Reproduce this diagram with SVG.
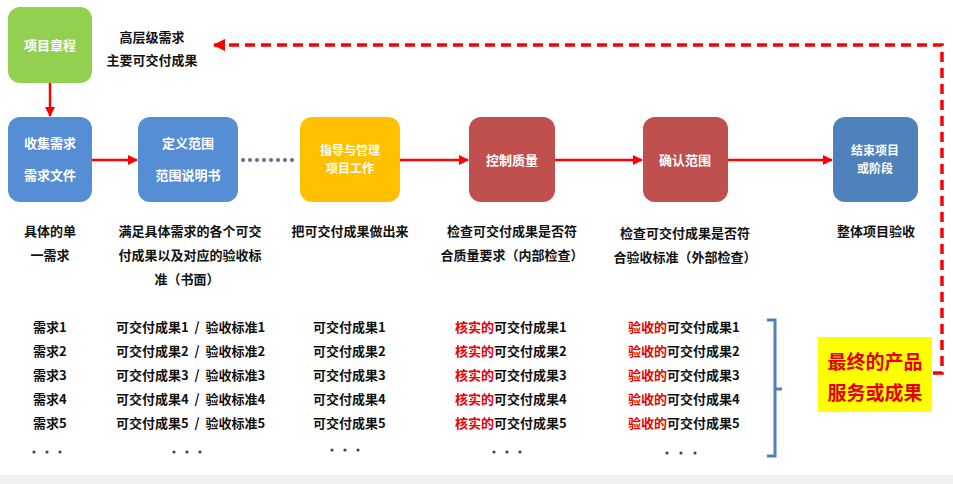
<svg xmlns="http://www.w3.org/2000/svg" width="953" height="484" viewBox="0 0 953 484">
<defs>
<style>
text{font-family:"Noto Sans CJK SC","Liberation Sans",sans-serif;font-weight:bold;}
.box{font-size:13px;fill:#fff;text-anchor:middle;}
.box2{font-size:12px;fill:#fff;text-anchor:middle;}
.t{font-size:13px;fill:#111;}
.c{text-anchor:middle;}
.r{fill:#e60000;}
.conn{stroke:#f00;stroke-width:2.5;fill:none;}
.dot{fill:#444;}
</style>
<marker id="ah" viewBox="0 0 10 10" refX="9" refY="5" markerWidth="4" markerHeight="4" orient="auto"><path d="M0,0 L10,5 L0,10 z" fill="#f00"/></marker>
<marker id="ah2" viewBox="0 0 10 10" refX="9" refY="5" markerWidth="3.5" markerHeight="3.5" orient="auto"><path d="M0,0 L10,5 L0,10 z" fill="#f00"/></marker>
</defs>
<rect width="953" height="484" fill="#fff"/>
<rect x="0" y="475" width="953" height="9" fill="#efefef"/>

<g id="connectors">
<line class="conn" x1="50" y1="83" x2="50" y2="116" marker-end="url(#ah)"/>
<line class="conn" x1="92" y1="160" x2="137" y2="160" marker-end="url(#ah)"/>
<line x1="243" y1="160" x2="298" y2="160" stroke="#5b6f8f" stroke-width="4" stroke-dasharray="0 7" stroke-linecap="round"/>
<line class="conn" x1="400" y1="160" x2="468" y2="160" marker-end="url(#ah)"/>
<line class="conn" x1="555" y1="160" x2="642" y2="160" marker-end="url(#ah)"/>
<line class="conn" x1="728" y1="160" x2="832" y2="160" marker-end="url(#ah)"/>
<polyline points="933,373 942,373 942,45 214,45" stroke="#f00" stroke-width="3.5" fill="none" stroke-dasharray="10 6" marker-end="url(#ah2)"/>
<path d="M767,320 H775 V456 H767 M775,389 H782" stroke="#4f81bd" stroke-width="3" fill="none"/>
</g>

<g id="charter">
<rect x="8" y="7" width="84" height="76" rx="12" fill="#92d050"/>
<text class="box" x="50" y="50">项目章程</text>
</g>
<g id="collect">
<rect x="8" y="117" width="84" height="85" rx="12" fill="#558ed5"/>
<text class="box" x="50" y="148">收集需求</text>
<text class="box" x="50" y="180">需求文件</text>
</g>
<g id="define">
<rect x="138" y="117" width="100" height="85" rx="12" fill="#558ed5"/>
<text class="box" x="188" y="148">定义范围</text>
<text class="box" x="188" y="180">范围说明书</text>
</g>
<g id="direct">
<rect x="300" y="117" width="100" height="85" rx="12" fill="#ffc000"/>
<text class="box2" x="350" y="155">指导与管理</text>
<text class="box2" x="350" y="173">项目工作</text>
</g>
<g id="quality">
<rect x="469" y="117" width="86" height="85" rx="12" fill="#c0504d"/>
<text class="box" x="512" y="165">控制质量</text>
</g>
<g id="validate">
<rect x="643" y="117" width="85" height="85" rx="12" fill="#c0504d"/>
<text class="box" x="685" y="165">确认范围</text>
</g>
<g id="close">
<rect x="833" y="117" width="85" height="85" rx="12" fill="#4f81bd"/>
<text class="box2" x="875" y="155">结束项目</text>
<text class="box2" x="875" y="173">或阶段</text>
</g>

<g id="top-note">
<text class="t c" x="152" y="42">高层级需求</text>
<text class="t c" x="152" y="65">主要可交付成果</text>
</g>

<g id="descriptions">
<text class="t c" x="50" y="236">具体的单</text>
<text class="t c" x="50" y="260">一需求</text>
<text class="t c" x="190" y="236">满足具体需求的各个可交</text>
<text class="t c" x="190" y="260">付成果以及对应的验收标</text>
<text class="t c" x="187" y="284">准（书面）</text>
<text class="t c" x="350" y="236">把可交付成果做出来</text>
<text class="t c" x="512" y="236">检查可交付成果是否符</text>
<text class="t c" x="512" y="260">合质量要求（内部检查）</text>
<text class="t c" x="685" y="238">检查可交付成果是否符</text>
<text class="t c" x="685" y="262">合验收标准（外部检查）</text>
<text class="t c" x="876" y="236">整体项目验收</text>
</g>

<g id="list1">
<text class="t" x="33" y="332">需求1</text>
<text class="t" x="33" y="356">需求2</text>
<text class="t" x="33" y="380">需求3</text>
<text class="t" x="33" y="404">需求4</text>
<text class="t" x="33" y="428">需求5</text>
<circle class="dot" cx="34" cy="452" r="1.6"/><circle class="dot" cx="47" cy="452" r="1.6"/><circle class="dot" cx="60" cy="452" r="1.6"/>
</g>
<g id="list2">
<text class="t" x="116" y="332" word-spacing="3">可交付成果1 / 验收标准1</text>
<text class="t" x="116" y="356" word-spacing="3">可交付成果2 / 验收标准2</text>
<text class="t" x="116" y="380" word-spacing="3">可交付成果3 / 验收标准3</text>
<text class="t" x="116" y="404" word-spacing="3">可交付成果4 / 验收标准4</text>
<text class="t" x="116" y="428" word-spacing="3">可交付成果5 / 验收标准5</text>
<circle class="dot" cx="174" cy="452" r="1.6"/><circle class="dot" cx="187" cy="452" r="1.6"/><circle class="dot" cx="200" cy="452" r="1.6"/>
</g>
<g id="list3">
<text class="t" x="313" y="332">可交付成果1</text>
<text class="t" x="313" y="356">可交付成果2</text>
<text class="t" x="313" y="380">可交付成果3</text>
<text class="t" x="313" y="404">可交付成果4</text>
<text class="t" x="313" y="428">可交付成果5</text>
<circle class="dot" cx="332" cy="450" r="1.6"/><circle class="dot" cx="345" cy="450" r="1.6"/><circle class="dot" cx="358" cy="450" r="1.6"/>
</g>
<g id="list4">
<text class="t" x="455" y="332"><tspan class="r">核实的</tspan>可交付成果1</text>
<text class="t" x="455" y="356"><tspan class="r">核实的</tspan>可交付成果2</text>
<text class="t" x="455" y="380"><tspan class="r">核实的</tspan>可交付成果3</text>
<text class="t" x="455" y="404"><tspan class="r">核实的</tspan>可交付成果4</text>
<text class="t" x="455" y="428"><tspan class="r">核实的</tspan>可交付成果5</text>
<circle class="dot" cx="494" cy="452" r="1.6"/><circle class="dot" cx="507" cy="452" r="1.6"/><circle class="dot" cx="520" cy="452" r="1.6"/>
</g>
<g id="list5">
<text class="t" x="628" y="332"><tspan class="r">验收的</tspan>可交付成果1</text>
<text class="t" x="628" y="356"><tspan class="r">验收的</tspan>可交付成果2</text>
<text class="t" x="628" y="380"><tspan class="r">验收的</tspan>可交付成果3</text>
<text class="t" x="628" y="404"><tspan class="r">验收的</tspan>可交付成果4</text>
<text class="t" x="628" y="428"><tspan class="r">验收的</tspan>可交付成果5</text>
<circle class="dot" cx="667" cy="453" r="1.6"/><circle class="dot" cx="681" cy="453" r="1.6"/><circle class="dot" cx="695" cy="453" r="1.6"/>
</g>

<g id="final">
<rect x="818" y="337" width="114" height="75" fill="#ffff00"/>
<text x="875" y="369" font-size="19" fill="#e60000" text-anchor="middle">最终的产品</text>
<text x="875" y="400" font-size="19" fill="#e60000" text-anchor="middle">服务或成果</text>
</g>
</svg>
